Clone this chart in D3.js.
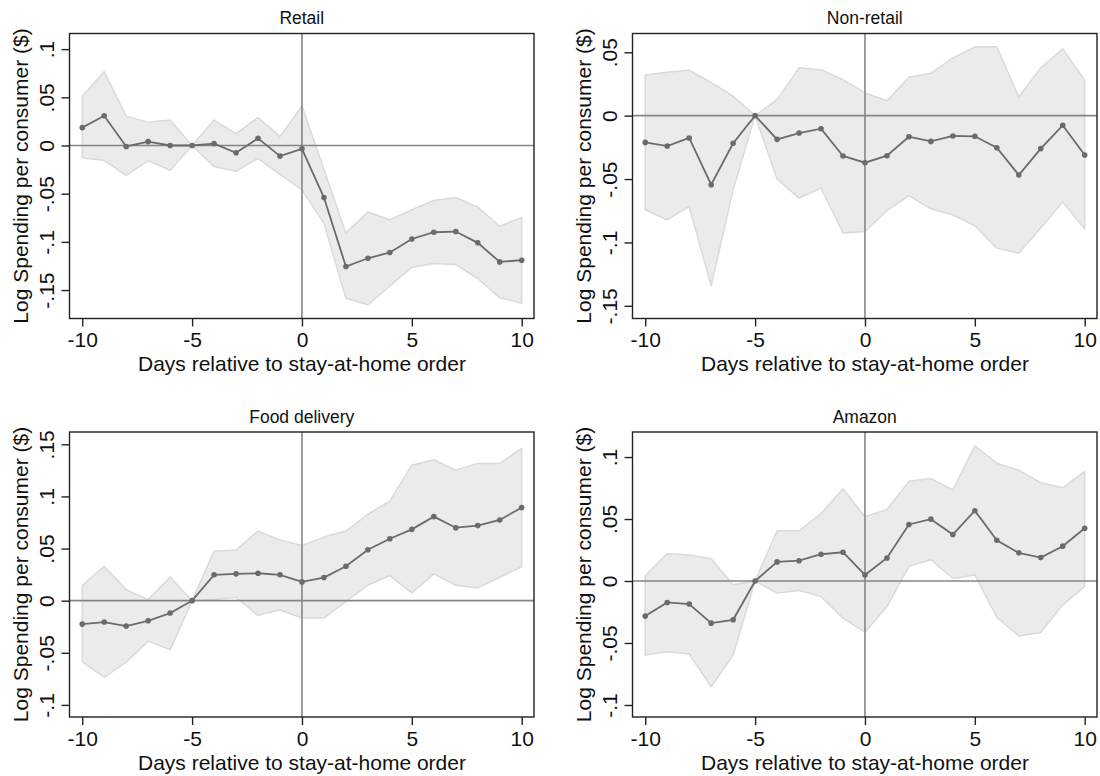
<!DOCTYPE html>
<html>
<head>
<meta charset="utf-8">
<script src="https://d3js.org/d3.v7.min.js"></script>
<style>
  body { margin: 0; background: #fff; }
  svg { font-family: "Liberation Sans", Arial, sans-serif; }
</style>
</head>
<body>
<svg width="1100" height="776"></svg>

<script>
// days relative to the order
var days = [-10, -9, -8, -7, -6, -5, -4, -3, -2, -1, 0, 1, 2, 3, 4, 5, 6, 7, 8, 9, 10];

// Retail
var retailEst = [0.0185, 0.0308, -0.001, 0.004, 0.0, 0.0, 0.002, -0.0075, 0.0075, -0.011, -0.0034,
                 -0.054, -0.1256, -0.117, -0.111, -0.097, -0.090, -0.0893, -0.101, -0.1208, -0.119];
var retailHi  = [0.051, 0.0767, 0.0305, 0.024, 0.0264, 0.0, 0.0264, 0.0123, 0.029, 0.0092, 0.041,
                 -0.025, -0.0907, -0.069, -0.077, -0.0667, -0.057, -0.054, -0.064, -0.0838, -0.0746];
var retailLo  = [-0.013, -0.0154, -0.0311, -0.0157, -0.0257, 0.0, -0.0219, -0.0267, -0.0133, -0.030, -0.046,
                 -0.0808, -0.1584, -0.1653, -0.1458, -0.1266, -0.1225, -0.1235, -0.138, -0.158, -0.1636];

// Non-retail
var nonretailEst = [-0.0211, -0.024, -0.0176, -0.0545, -0.0218, 0.0, -0.0187, -0.0137, -0.0103, -0.0318, -0.0371,
                    -0.0316, -0.0166, -0.0203, -0.016, -0.0163, -0.0253, -0.0468, -0.026, -0.0076, -0.031];
var nonretailHi  = [0.032, 0.0342, 0.0358, 0.0263, 0.0153, 0.0, 0.0126, 0.0377, 0.0363, 0.0284, 0.0179,
                    0.0118, 0.0303, 0.0334, 0.0456, 0.0543, 0.0543, 0.0148, 0.0377, 0.0527, 0.0279];
var nonretailLo  = [-0.0742, -0.0821, -0.0716, -0.1343, -0.0585, 0.0, -0.05, -0.065, -0.0571, -0.0925, -0.0914,
                    -0.075, -0.063, -0.0735, -0.0782, -0.0869, -0.1045, -0.1085, -0.0887, -0.068, -0.0895];

// Food delivery
var foodEst = [-0.0225, -0.0205, -0.0244, -0.0193, -0.0119, 0.0, 0.0248, 0.0257, 0.0263, 0.0248, 0.018,
               0.0222, 0.033, 0.0488, 0.0594, 0.0684, 0.0806, 0.07, 0.072, 0.0774, 0.0893];
var foodHi  = [0.0145, 0.033, 0.0106, 0.001, 0.0228, 0.0, 0.0475, 0.0485, 0.0668, 0.0581, 0.053,
               0.061, 0.0668, 0.0829, 0.0954, 0.130, 0.1352, 0.1252, 0.1317, 0.1317, 0.1461];
var foodLo  = [-0.0588, -0.0735, -0.059, -0.0388, -0.0472, 0.0, 0.001, 0.0032, -0.0141, -0.009, -0.0166,
               -0.0167, -0.0006, 0.0148, 0.0241, 0.0074, 0.0257, 0.0148, 0.0122, 0.0225, 0.0325];

// Amazon
var amazonEst = [-0.0283, -0.0173, -0.0186, -0.034, -0.0313, 0.0, 0.0154, 0.0164, 0.0216, 0.0232, 0.0049,
                 0.0186, 0.0456, 0.0499, 0.0375, 0.0567, 0.0329, 0.0227, 0.0189, 0.0281, 0.0426];
var amazonHi  = [0.0043, 0.0221, 0.021, 0.018, -0.003, 0.0, 0.0405, 0.0405, 0.0543, 0.0745, 0.0518,
                 0.0577, 0.0804, 0.0826, 0.0734, 0.109, 0.095, 0.0893, 0.0793, 0.0753, 0.0885];
var amazonLo  = [-0.0597, -0.057, -0.0589, -0.0853, -0.0597, 0.0, -0.0097, -0.0076, -0.0125, -0.030, -0.0413,
                 -0.0206, 0.0118, 0.0172, 0.0021, 0.0049, -0.0292, -0.0443, -0.0416, -0.0192, -0.0044];

var xTicks = [-10, -5, 0, 5, 10];
var panelTitles = ["Retail", "Non-retail", "Food delivery", "Amazon"];
var yTicks = [
  [-0.15, -0.1, -0.05, 0, 0.05, 0.1],
  [-0.15, -0.1, -0.05, 0, 0.05],
  [-0.1, -0.05, 0, 0.05, 0.1, 0.15],
  [-0.1, -0.05, 0, 0.05, 0.1]
];
var yDomains = [[-0.1795, 0.1162], [-0.160, 0.0648], [-0.1116, 0.1618], [-0.1097, 0.1202]];

var panels = [
  {est: retailEst, hi: retailHi, lo: retailLo},
  {est: nonretailEst, hi: nonretailHi, lo: nonretailLo},
  {est: foodEst, hi: foodHi, lo: foodLo},
  {est: amazonEst, hi: amazonHi, lo: amazonLo}
];

var svg = d3.select("svg");

var plotW = 464.5, plotH = 285;
var origins = [[69.5, 33.5], [632.5, 33.5], [69.5, 432], [632.5, 432]];

// stata style tick text: .05, -.1, 0
function stataFmt(v) {
  if (v === 0) return "0";
  var s = String(+v.toFixed(2));
  return s.replace("0.", ".");
}

var lineCol = "#6b6b6b";

panels.forEach(function(p, k) {
  var g = svg.append("g")
      .attr("transform", "translate(" + origins[k][0] + "," + origins[k][1] + ")");

  var x = d3.scaleLinear().domain([-10.58, 10.56]).range([0, plotW]);
  var y = d3.scaleLinear().domain(yDomains[k]).range([plotH, 0]);

  var rows = days.map(function(d, i) {
    return {day: d, est: p.est[i], hi: p.hi[i], lo: p.lo[i]};
  });

  var area = d3.area()
      .x(function(d) { return x(d.day); })
      .y0(function(d) { return y(d.lo); })
      .y1(function(d) { return y(d.hi); });

  g.append("path")
      .datum(rows)
      .attr("d", area)
      .attr("fill", "#ebebeb")
      .attr("stroke", "#dadada")
      .attr("stroke-width", 1.5)
      .attr("stroke-linejoin", "round");

  // reference lines
  g.append("line")
      .attr("x1", 0).attr("x2", plotW)
      .attr("y1", y(0)).attr("y2", y(0))
      .attr("stroke", "#858585").attr("stroke-width", 1.6);
  g.append("line")
      .attr("x1", x(0)).attr("x2", x(0))
      .attr("y1", 0).attr("y2", plotH)
      .attr("stroke", "#858585").attr("stroke-width", 1.6);

  var line = d3.line()
      .x(function(d) { return x(d.day); })
      .y(function(d) { return y(d.est); });

  g.append("path")
      .datum(rows)
      .attr("d", line)
      .attr("fill", "none")
      .attr("stroke", lineCol)
      .attr("stroke-width", 1.8);

  g.selectAll(".dot")
    .data(rows)
    .enter().append("circle")
      .attr("class", "dot")
      .attr("cx", function(d) { return x(d.day); })
      .attr("cy", function(d) { return y(d.est); })
      .attr("r", 2.8)
      .attr("fill", lineCol);

  // frame
  g.append("rect")
      .attr("width", plotW).attr("height", plotH)
      .attr("fill", "none")
      .attr("stroke", "#222").attr("stroke-width", 1.4);

  // x axis
  var xAxis = g.append("g")
      .attr("transform", "translate(0," + plotH + ")")
      .call(d3.axisBottom(x).tickValues(xTicks).tickSize(8).tickSizeOuter(0).tickPadding(6)
            .tickFormat(function(d) { return String(d); }));
  xAxis.select(".domain").remove();
  xAxis.selectAll("line").attr("stroke", "#222").attr("stroke-width", 1.4);
  xAxis.selectAll("text")
      .attr("font-size", 21).attr("fill", "#111")
      .attr("font-family", "Liberation Sans, Arial, sans-serif");

  // y axis, labels rotated
  var yAxis = g.append("g")
      .call(d3.axisLeft(y).tickValues(yTicks[k]).tickSize(8).tickSizeOuter(0)
            .tickFormat(stataFmt));
  yAxis.select(".domain").remove();
  yAxis.selectAll("line").attr("stroke", "#222").attr("stroke-width", 1.4);
  yAxis.selectAll("text")
      .attr("x", null).attr("dy", null)
      .attr("transform", "translate(-16,0) rotate(-90)")
      .attr("text-anchor", "middle")
      .attr("font-size", 21).attr("fill", "#111")
      .attr("font-family", "Liberation Sans, Arial, sans-serif");

  // title
  g.append("text")
      .attr("x", plotW / 2).attr("y", -9.5)
      .attr("text-anchor", "middle")
      .attr("font-size", 17.5).attr("fill", "#111")
      .text(panelTitles[k]);

  // axis titles
  g.append("text")
      .attr("x", x(0)).attr("y", plotH + 52.5)
      .attr("text-anchor", "middle")
      .attr("font-size", 21).attr("fill", "#111")
      .text("Days relative to stay-at-home order");

  g.append("text")
      .attr("transform", "translate(-41.5," + (plotH / 2) + ") rotate(-90)")
      .attr("text-anchor", "middle")
      .attr("font-size", 21).attr("fill", "#111")
      .text("Log Spending per consumer ($)");
});
</script>
</body>
</html>
